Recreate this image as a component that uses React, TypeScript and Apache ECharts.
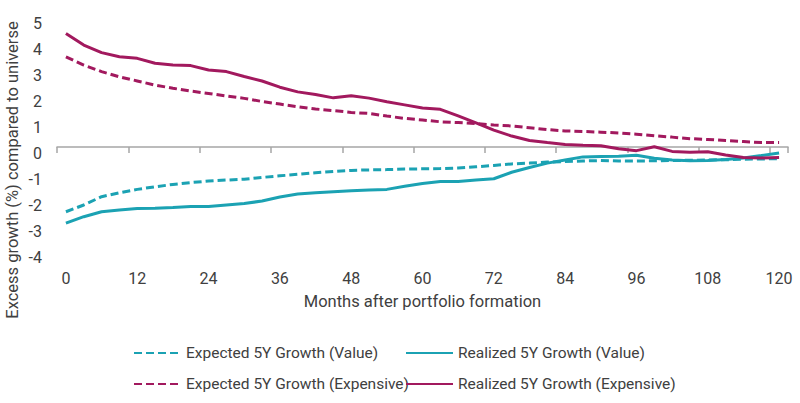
import React, { useEffect, useRef } from "react";
import * as echarts from "echarts";

const months = ["0","3","6","9","12","15","18","21","24","27","30","33","36","39","42","45","48","51","54","57","60","63","66","69","72","75","78","81","84","87","90","93","96","99","102","105","108","111","114","117","120"];

const expectedValue = [-2.49,-2.23,-1.91,-1.76,-1.63,-1.53,-1.44,-1.37,-1.31,-1.27,-1.24,-1.17,-1.11,-1.05,-0.99,-0.94,-0.9,-0.88,-0.87,-0.85,-0.84,-0.83,-0.81,-0.76,-0.71,-0.65,-0.62,-0.58,-0.56,-0.54,-0.52,-0.54,-0.54,-0.53,-0.52,-0.51,-0.5,-0.49,-0.47,-0.46,-0.45];
const realizedValue = [-2.93,-2.68,-2.49,-2.42,-2.37,-2.36,-2.33,-2.29,-2.29,-2.23,-2.17,-2.08,-1.92,-1.81,-1.76,-1.72,-1.68,-1.65,-1.63,-1.51,-1.4,-1.33,-1.33,-1.27,-1.22,-0.97,-0.79,-0.62,-0.5,-0.38,-0.37,-0.36,-0.32,-0.43,-0.5,-0.53,-0.52,-0.48,-0.42,-0.33,-0.23];
const expectedExpensive = [3.47,3.15,2.9,2.7,2.54,2.38,2.26,2.15,2.06,1.96,1.87,1.75,1.65,1.55,1.46,1.4,1.33,1.29,1.19,1.1,1.04,0.97,0.94,0.9,0.85,0.81,0.74,0.67,0.62,0.6,0.57,0.54,0.49,0.43,0.38,0.32,0.29,0.25,0.21,0.17,0.17];
const realizedExpensive = [4.37,3.92,3.63,3.47,3.41,3.22,3.15,3.13,2.96,2.9,2.71,2.54,2.3,2.12,2.02,1.89,1.97,1.88,1.74,1.62,1.5,1.45,1.2,0.93,0.65,0.42,0.25,0.17,0.1,0.07,0.05,-0.07,-0.14,0.01,-0.17,-0.2,-0.18,-0.31,-0.4,-0.42,-0.4];

const seriesNames = [
  "Expected 5Y Growth (Value)",
  "Realized 5Y Growth (Value)",
  "Expected 5Y Growth (Expensive)",
  "Realized 5Y Growth (Expensive)",
];
const yTitle = "Excess growth (%) compared to universe";
const xTitle = "Months after portfolio formation";

const CYAN = "#1BA2B3";
const MAGENTA = "#A2195E";
const TEXT = "#404040";
const FONT = "Roboto, 'Liberation Sans', sans-serif";

export default function App() {
  const ref = useRef<HTMLDivElement>(null);
  useEffect(() => {
    document.body.style.margin = "0";
    if (!ref.current) return;
    const chart = echarts.init(ref.current, null, { renderer: "svg" });
    const dash = [8, 4];
    const mk = (name: string, data: number[], color: string, dashed: boolean, z: number) => ({
      name,
      type: "line",
      data,
      xAxisIndex: 0,
      symbol: "none",
      z,
      lineStyle: { color, width: 3, type: dashed ? dash : "solid" },
      itemStyle: { color },
    });
    const legendBase = {
      orient: "vertical",
      top: 339,
      itemWidth: 47,
      itemHeight: 14,
      itemGap: 13,
      itemStyle: { opacity: 0 },
      textStyle: { color: TEXT, fontFamily: FONT, fontSize: 15.5, lineHeight: 18 },
    };
    chart.setOption({
      animation: false,
      grid: { left: 57, right: 12, top: 17, bottom: 152, containLabel: false },
      xAxis: [
        {
          type: "category",
          data: months,
          boundaryGap: true,
          position: "bottom",
          axisLine: { show: false, onZero: false },
          axisTick: { show: false },
          axisLabel: {
            interval: 3,
            margin: 19,
            color: TEXT,
            fontFamily: FONT,
            fontSize: 16,
          },
          name: xTitle,
          nameLocation: "middle",
          nameGap: 42,
          nameTextStyle: { color: TEXT, fontFamily: FONT, fontSize: 16.5 },
          splitLine: { show: false },
        },
        {
          type: "category",
          data: months,
          boundaryGap: true,
          position: "top",
          axisLine: { show: true, onZero: true, lineStyle: { color: "#A6A6A6", width: 1.5 } },
          axisTick: { show: true, interval: 3, inside: true, length: 6, lineStyle: { color: "#A6A6A6", width: 1.5 } },
          axisLabel: { show: false },
          splitLine: { show: false },
        },
      ],
      yAxis: {
        type: "value",
        min: -4,
        max: 5,
        interval: 1,
        axisLine: { show: false },
        axisTick: { show: false },
        splitLine: { show: false },
        axisLabel: {
          color: TEXT,
          fontFamily: FONT,
          fontSize: 16,
          margin: 15,
          verticalAlign: "top",
          lineHeight: 12,
        },
      },
      legend: [
        { ...legendBase, data: [seriesNames[0], seriesNames[2]], left: 128 },
        { ...legendBase, data: [seriesNames[1], seriesNames[3]], left: 400 },
      ],
      graphic: [
        {
          type: "text",
          x: 12,
          y: 170,
          rotation: Math.PI / 2,
          style: {
            text: yTitle,
            fill: TEXT,
            font: `16.5px ${FONT}`,
            align: "center",
            verticalAlign: "middle",
          },
        },
      ],
      series: [
        mk(seriesNames[0], expectedValue, CYAN, true, 2),
        mk(seriesNames[1], realizedValue, CYAN, false, 3),
        mk(seriesNames[2], expectedExpensive, MAGENTA, true, 4),
        mk(seriesNames[3], realizedExpensive, MAGENTA, false, 5),
      ],
    });
    return () => chart.dispose();
  }, []);
  return <div ref={ref} style={{ width: 800, height: 403 }} />;
}
